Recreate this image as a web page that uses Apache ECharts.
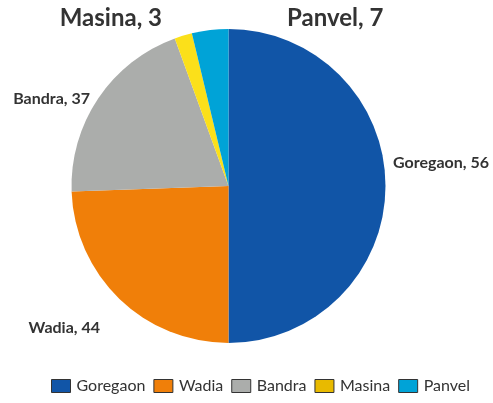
<!DOCTYPE html>
<html>
<head>
<meta charset="utf-8">
<script src="https://cdn.jsdelivr.net/npm/echarts@6/dist/echarts.min.js"></script>
<style>
  html, body { margin: 0; padding: 0; background: #fff; }
  #chart { width: 493px; height: 403px; }
</style>
</head>
<body>
<div id="chart"></div>
<script>
// categories and numbers printed in the labels
const categories = ['Goregaon', 'Wadia', 'Bandra', 'Masina', 'Panvel']
const labelValues = [56, 44, 37, 3, 7]
// slice sizes as drawn in the picture (degrees of the circle)
const sliceValues = [180, 88, 72, 6.5, 13.5]

const colors = ['#1155a7', '#f07f09', '#abadab', '#fbe01a', '#00a3d7']
const legendColors = ['#1155a7', '#f07f09', '#abadab', '#e8ba00', '#00a3d7']

// where each label sits [x, y, align]
const labelPos = [
  [393, 163, 'left'],
  [100, 328, 'right'],
  [90, 99, 'right'],
  [162, 18, 'right'],
  [287, 18, 'left'],
]
const bigLabel = [false, false, false, true, true]

const chart = echarts.init(document.getElementById('chart'))
const option = {
  animation: false,
  color: colors,
  legend: {
    bottom: 4,
    left: 46,
    itemWidth: 19,
    itemHeight: 13,
    itemGap: 8,
    textStyle: { fontFamily: 'Lato', fontSize: 16, color: '#333', padding: [0, 0, 0, 1] },
    data: categories.map((c, i) => ({
      name: c,
      icon: 'rect',
      itemStyle: { color: legendColors[i], borderColor: '#333', borderWidth: 1 },
    })),
  },
  series: [
    {
      type: 'pie',
      center: [228.5, 186],
      radius: 157,
      startAngle: 90,
      clockwise: true,
      label: {
        show: true,
        position: 'outside',
        fontFamily: 'Lato',
        fontWeight: 'bold',
        color: '#333',
        overflow: 'none',
        width: 200,
        formatter: (p) => p.name + ', ' + labelValues[p.dataIndex],
      },
      labelLine: { show: false },
      labelLayout: (p) => {
        const pos = labelPos[p.dataIndex]
        return { x: pos[0], y: pos[1], align: pos[2], verticalAlign: 'middle' }
      },
      emphasis: { disabled: true },
      data: categories.map((c, i) => ({
        name: c,
        value: sliceValues[i],
        label: { fontSize: bigLabel[i] ? 24 : 16 },
      })),
    },
  ],
}
chart.setOption(option)
</script>
</body>
</html>
